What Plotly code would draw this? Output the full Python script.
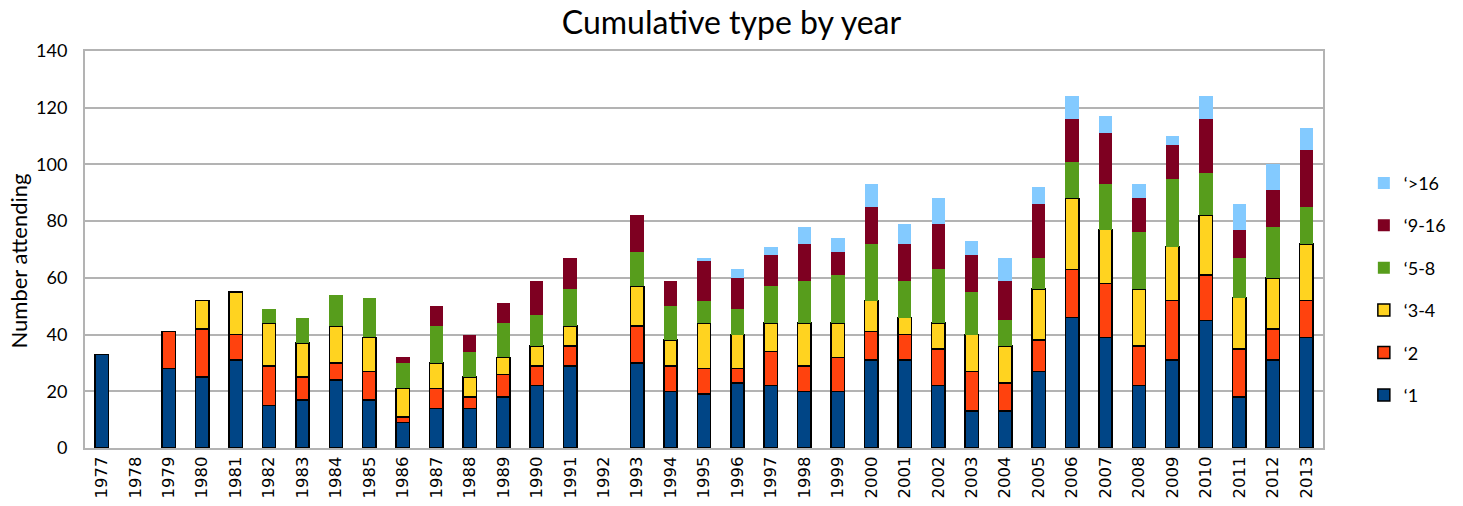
import plotly.graph_objects as go

years = [str(y) for y in range(1977, 2014)]
s1 = [33, 0, 28, 25, 31, 15, 17, 24, 17, 9, 14, 14, 18, 22, 29, 0, 30, 20, 19, 23, 22, 20, 20, 31, 31, 22, 13, 13, 27, 46, 39, 22, 31, 45, 18, 31, 39]
s2 = [0, 0, 13, 17, 9, 14, 8, 6, 10, 2, 7, 4, 8, 7, 7, 0, 13, 9, 9, 5, 12, 9, 12, 10, 9, 13, 14, 10, 11, 17, 19, 14, 21, 16, 17, 11, 13]
s34 = [0, 0, 0, 10, 15, 15, 12, 13, 12, 10, 9, 7, 6, 7, 7, 0, 14, 9, 16, 12, 10, 15, 12, 11, 6, 9, 13, 13, 18, 25, 19, 20, 19, 21, 18, 18, 20]
s58 = [0, 0, 0, 0, 0, 5, 9, 11, 14, 9, 13, 9, 12, 11, 13, 0, 12, 12, 8, 9, 13, 15, 17, 20, 13, 19, 15, 9, 11, 13, 16, 20, 24, 15, 14, 18, 13]
s916 = [0, 0, 0, 0, 0, 0, 0, 0, 0, 2, 7, 6, 7, 12, 11, 0, 13, 9, 14, 11, 11, 13, 8, 13, 13, 16, 13, 14, 19, 15, 18, 12, 12, 19, 10, 13, 20]
s16 = [0, 0, 0, 0, 0, 0, 0, 0, 0, 0, 0, 0, 0, 0, 0, 0, 0, 0, 1, 3, 3, 6, 5, 8, 7, 9, 5, 8, 6, 8, 6, 5, 3, 8, 9, 9, 8]

series = [
    ("\u20181", s1, "#004586", True),
    ("\u20182", s2, "#ff420e", True),
    ("\u20183-4", s34, "#ffd320", True),
    ("\u20185-8", s58, "#579d1c", False),
    ("\u20189-16", s916, "#7e0021", False),
    ("\u2018>16", s16, "#83caff", False),
]

fig = go.Figure()
n = len(series)
for i, (name, vals, color, outlined) in enumerate(series):
    fig.add_trace(go.Bar(
        x=years, y=[v if v else None for v in vals], name=name, legendgroup=name,
        legendrank=n - i,
        marker=dict(color=color,
                    line=dict(color="#000000" if outlined else color,
                              width=1.5 if outlined else 0)),
    ))

grid = "#b3b3b3"
fig.update_layout(
    barmode="stack",
    bargap=0.6,
    width=1463, height=506,
    margin=dict(l=85, r=138, t=51, b=58),
    paper_bgcolor="white", plot_bgcolor="white",
    title=dict(text="Cumulative type by year", x=0.5, xanchor="center",
               y=0.955, yanchor="middle",
               font=dict(family="Lato, Open Sans, sans-serif", size=32, color="#000")),
    legend=dict(traceorder="grouped", tracegroupgap=16,
                x=1.033, xanchor="left", y=0.40, yanchor="middle",
                font=dict(family="Lato, Open Sans, sans-serif", size=18, color="#000"),
                itemwidth=30),
    xaxis=dict(type="category", tickangle=-90, showgrid=False, automargin=False,
               showline=True, linecolor=grid, linewidth=2, mirror=True,
               ticks="", tickfont=dict(family="DejaVu Sans", size=16.5, color="#000")),
    yaxis=dict(range=[0, 140], dtick=20, showgrid=True, gridcolor=grid, gridwidth=2,
               showline=True, linecolor=grid, linewidth=2, mirror=True, automargin=False,
               zeroline=False, ticks="", ticklabelstandoff=12,
               tickfont=dict(family="Lato, Open Sans, sans-serif", size=18, color="#000")),
    annotations=[dict(text="Number attending", textangle=-90, xref="paper", yref="paper",
                      x=-0.054, y=0.47, xanchor="center", yanchor="middle", showarrow=False,
                      font=dict(family="Lato, Open Sans, sans-serif", size=22, color="#000"))],
)

fig.write_html("out.html")
